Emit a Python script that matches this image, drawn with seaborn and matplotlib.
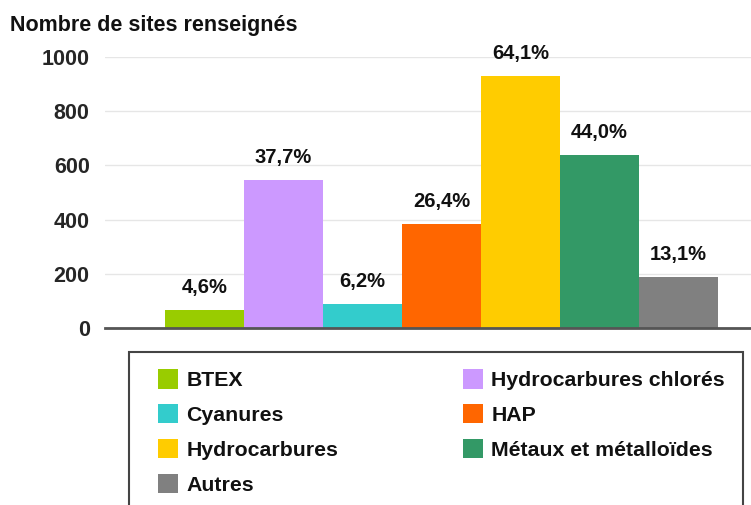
import matplotlib
matplotlib.use('Agg')
import matplotlib.pyplot as plt
import seaborn as sns
from matplotlib.patches import Patch, Rectangle

categories = ['BTEX', 'Hydrocarbures chlorés', 'Cyanures', 'HAP',
              'Hydrocarbures', 'Métaux et métalloïdes', 'Autres']
values = [67, 547, 90, 383, 930, 638, 190]
pct_labels = ['4,6%', '37,7%', '6,2%', '26,4%', '64,1%', '44,0%', '13,1%']
colors = ['#99cc00', '#cc99ff', '#33cccc', '#ff6600', '#ffcc00', '#339966', '#808080']
yticks = [0, 200, 400, 600, 800, 1000]

sns.set_style('white')
plt.rcParams['font.family'] = ['Liberation Sans', 'DejaVu Sans']
plt.rcParams['font.weight'] = 'bold'

W, H = 751, 505
fig = plt.figure(figsize=(W / 100, H / 100), dpi=100)
ax = fig.add_axes([105 / W, 1 - 328 / H, 646 / W, 271 / H])

sns.barplot(x=categories, y=values, hue=categories, palette=colors,
            width=1, legend=False, ax=ax, saturation=1, linewidth=0)

ax.set_xlim(-1.26, 6.92)
ax.set_ylim(0, 1000)
ax.set_yticks(yticks)
ax.set_yticklabels([str(t) for t in yticks], fontsize=15.5, fontweight='bold')
ax.tick_params(axis='y', length=0, pad=11)
ax.set_xticks([])
ax.set_xlabel('')
ax.set_ylabel('')
ax.yaxis.grid(True, color='#e6e6e6', linewidth=1)
ax.set_axisbelow(True)
for s in ['top', 'right', 'left']:
    ax.spines[s].set_visible(False)
ax.spines['bottom'].set_color('#555555')
ax.spines['bottom'].set_linewidth(2)

# percentage labels above bars
for i, (v, lab) in enumerate(zip(values, pct_labels)):
    ax.annotate(lab, xy=(i, v), xytext=(0, 16), textcoords='offset points',
                ha='center', va='center', fontsize=14.5, fontweight='bold',
                color='#111111')

fig.text(10 / W, 1 - 26 / H, 'Nombre de sites renseignés', ha='left', va='center',
         fontsize=15.5, fontweight='bold', color='#111111')

# legend box (runs off the bottom of the image like the original)
fig.patches.append(Rectangle((129 / W, -0.05), (743 - 129) / W, 0.05 + 1 - 352 / H,
                             transform=fig.transFigure, facecolor='white',
                             edgecolor='#444444', linewidth=1.5, zorder=0))

# legend, filled row by row like the original
order = [0, 2, 4, 6, 1, 3, 5]
handles = [Patch(facecolor=colors[i], edgecolor='none') for i in order]
labels = [categories[i] for i in order]
leg = fig.legend(handles, labels, loc='upper left', ncol=2, mode='expand',
                 bbox_to_anchor=(158 / W, 1 - 370 / H, 567 / W, 0.001),
                 prop={'size': 15.3, 'weight': 'bold'}, frameon=False,
                 borderpad=0, borderaxespad=0, labelspacing=0.66,
                 handlelength=0.95, handleheight=1.0, handletextpad=0.38)
for t in leg.get_texts():
    t.set_color('#111111')

fig.savefig('out.png', dpi=100, facecolor='white')
